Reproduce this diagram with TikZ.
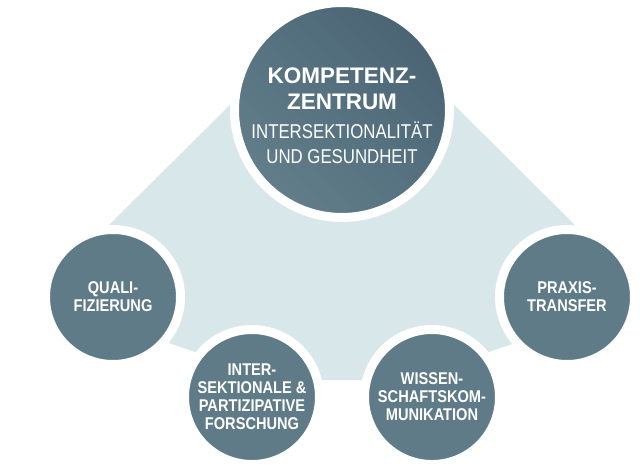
\documentclass[tikz,border=0pt]{standalone}
\usepackage{fontspec}
\setmainfont{Liberation Sans}
\newfontfamily\condbold{Liberation Sans}[FakeStretch=0.86]
\newfontfamily\condlight{Liberation Sans}[FakeStretch=0.84]
\usetikzlibrary{calc}
\definecolor{slate}{HTML}{5E7B87}
\definecolor{slatedark}{HTML}{4A6474}
\definecolor{slatelight}{HTML}{627E8A}
\definecolor{polyfill}{HTML}{D8E7E9}
\begin{document}
\begin{tikzpicture}[x=1pt,y=-1pt,
  bubble/.style={circle, fill=slate, draw=white, line width=9pt, minimum size=135pt,
    inner sep=0pt, text=white, align=center,
    font=\condbold\bfseries\fontsize{17}{18}\selectfont},
  titletext/.style={text=white, align=center, inner sep=0pt,
    font=\bfseries\fontsize{22.5}{26}\selectfont},
  subtext/.style={text=white, align=center, inner sep=0pt,
    font=\condlight\fontsize{20}{25}\selectfont}]
\fill[white] (0,0) rectangle (640,472);
\useasboundingbox (0,0) rectangle (640,472);
\fill[polyfill] (235,100) -- (449,100) -- (578,228) -- (578,322) -- (405,380)
  -- (279,380) -- (106,322) -- (106,228) -- cycle;
\node[bubble, minimum size=215pt, shading=axis, top color=slatedark,
  bottom color=slatelight, shading angle=-45] (center) at (342,110) {};
\node[titletext] (title) at (342,89) {KOMPETENZ-\\ZENTRUM};
\node[subtext] (sub) at (342,143) {INTERSEKTIONALITÄT\\UND GESUNDHEIT};
\node[bubble] (quali) at (113,297) {QUALI-\\FIZIERUNG};
\node[bubble] (praxis) at (567,297) {PRAXIS-\\TRANSFER};
\node[bubble] (inter) at (252,397) {INTER-\\SEKTIONALE \&\\PARTIZIPATIVE\\FORSCHUNG};
\node[bubble] (wissen) at (432,397) {WISSEN-\\SCHAFTSKOM-\\MUNIKATION};
\end{tikzpicture}
\end{document}
